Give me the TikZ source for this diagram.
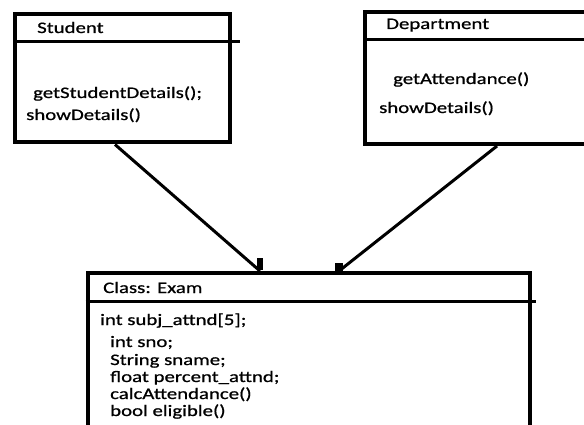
\documentclass[tikz,border=0pt]{standalone}
\usepackage{fontspec}
\setmainfont[FakeStretch=1.3, FakeBold=0.8]{Carlito}
\usepackage{tikz}

\tikzset{
  classbox/.style={draw, line width=4pt, inner sep=0pt},
  divider/.style={line width=3pt},
  link/.style={line width=3pt},
  member/.style={anchor=base west, inner sep=0pt, font=\fontsize{16}{19}\selectfont}
}

\begin{document}
\begin{tikzpicture}[x=1pt, y=-1pt]
				\useasboundingbox (0,0) rectangle (584,425);
				
				% Student
				\node[classbox, minimum width=215pt, minimum height=128pt] (student) at (122.5,78.5) {};
				\draw[divider] ([yshift=-29pt]student.north west) -- ++(227,0);
				\node[member] (stuName) at (37,33) {Student};
				\node[member] (stuGet) at (33,98) {getStudentDetails();};
				\node[member] (stuShow) at (26,120) {showDetails()};
				
				% Department
				\node[classbox, minimum width=227pt, minimum height=132pt] (dept) at (478.5,78) {};
				\draw[divider] ([yshift=-29.5pt]dept.north west) -- ++(240,0);
				\node[member] (deptName) at (386,29) {Department};
				\node[member] (deptGet) at (393,84) {getAttendance()};
				\node[member] (deptShow) at (379,113) {showDetails()};
				
				% Exam
				\node[classbox, minimum width=442.5pt, minimum height=167pt] (exam) at (308.75,356.5) {};
				\draw[divider] ([yshift=-30.5pt]exam.north west) -- ++(450,0);
				\node[member] (examName) at (103,293) {Class: Exam};
				\node[member] (examArr) at (100,325) {int subj\_attnd[5];};
				\node[member] (examSno) at (110,347) {int sno;};
				\node[member] (examSname) at (110,365) {String sname;};
				\node[member] (examPct) at (110,382) {float percent\_attnd;};
				\node[member] (examCalc) at (110,399) {calcAttendance()};
				\node[member] (examElig) at (110,416) {bool eligible()};
				
				% Links to Exam
				\draw[link] ([xshift=-7.5pt]student.south) -- ([xshift=-48.75pt]exam.north);
				\fill ([xshift=-51.75pt,yshift=1pt]exam.north) rectangle ++(6,-12);
				\draw[link] ([xshift=18.5pt]dept.south) -- ([xshift=30.25pt]exam.north);
				\fill ([xshift=26.25pt,yshift=0pt]exam.north) rectangle ++(8,-8);
\end{tikzpicture}
\end{document}
